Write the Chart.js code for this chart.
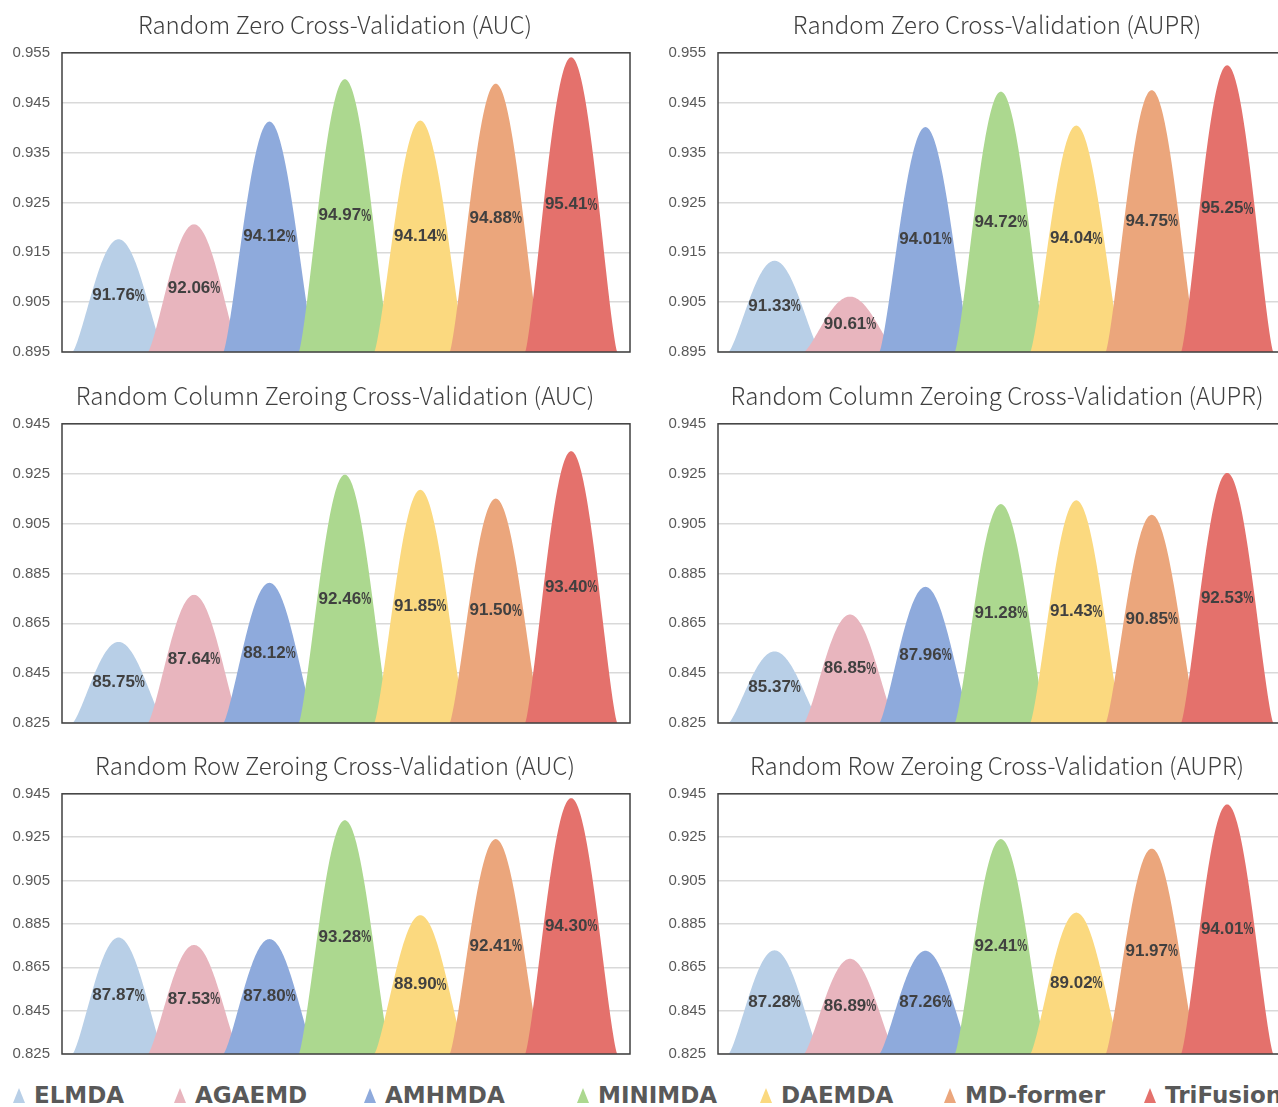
<!DOCTYPE html>
<html>
<head>
<meta charset="utf-8">
<script src="https://cdn.jsdelivr.net/npm/chart.js@4.4.1/dist/chart.umd.min.js"></script>
<style>
  html, body { margin:0; padding:0; width:1278px; height:1107px; overflow:hidden; background:#fff; }
  canvas.panel { position:absolute; }
  .leg { position:absolute; top:1081px; font:bold 23px "DejaVu Sans", sans-serif; color:#595959; white-space:nowrap; line-height:28px; }
  .tri { position:absolute; width:0; height:0; border-left:6.5px solid transparent; border-right:6.5px solid transparent; }
</style>
</head>
<body>
<script>
// ---------- data ----------
const methods = ['ELMDA', 'AGAEMD', 'AMHMDA', 'MINIMDA', 'DAEMDA', 'MD-former', 'TriFusion'];
const methodColors = ['#b8cfe7', '#e8b5be', '#8eaadc', '#acd88f', '#fbd97f', '#eba67c', '#e4716c'];

const zeroAUC   = [91.76, 92.06, 94.12, 94.97, 94.14, 94.88, 95.41];
const zeroAUPR  = [91.33, 90.61, 94.01, 94.72, 94.04, 94.75, 95.25];
const colAUC    = [85.75, 87.64, 88.12, 92.46, 91.85, 91.50, 93.40];
const colAUPR   = [85.37, 86.85, 87.96, 91.28, 91.43, 90.85, 92.53];
const rowAUC    = [87.87, 87.53, 87.80, 93.28, 88.90, 92.41, 94.30];
const rowAUPR   = [87.28, 86.89, 87.26, 92.41, 89.02, 91.97, 94.01];

const ticksZero = ['0.895', '0.905', '0.915', '0.925', '0.935', '0.945', '0.955'];
const ticksCol  = ['0.825', '0.845', '0.865', '0.885', '0.905', '0.925', '0.945'];
const ticksRow  = ['0.825', '0.845', '0.865', '0.885', '0.905', '0.925', '0.945'];

const titleZeroAUC  = 'Random Zero Cross-Validation (AUC)';
const titleZeroAUPR = 'Random Zero Cross-Validation (AUPR)';
const titleColAUC   = 'Random Column Zeroing Cross-Validation (AUC)';
const titleColAUPR  = 'Random Column Zeroing Cross-Validation (AUPR)';
const titleRowAUC   = 'Random Row Zeroing Cross-Validation (AUC)';
const titleRowAUPR  = 'Random Row Zeroing Cross-Validation (AUPR)';

// ---------- mountain drawing plugin ----------
const mountainPlugin = {
  id: 'mountains',
  afterDatasetsDraw(chart) {
    const ctx = chart.ctx;
    const xs = chart.scales.x, ys = chart.scales.y, area = chart.chartArea;
    const meta = chart.getDatasetMeta(0);
    const ds = chart.data.datasets[0];
    const step = xs.getPixelForValue(1) - xs.getPixelForValue(0);
    const half = step * 0.61;
    const base = ys.getPixelForValue(ys.min);
    ctx.save();
    ctx.beginPath();
    ctx.rect(area.left, area.top - 2, area.right - area.left, area.bottom - area.top + 2);
    ctx.clip();
    meta.data.forEach((el, i) => {
      const cx = el.x, top = el.y, h = base - top;
      const N = 120;
      ctx.beginPath();
      ctx.moveTo(cx - half, base);
      for (let k = 0; k <= N; k++) {
        const t = -1 + 2 * k / N;
        const c = Math.max(0, Math.cos(Math.PI * t / 2));
        ctx.lineTo(cx + t * half, base - h * Math.pow(c, 1.3));
      }
      ctx.closePath();
      ctx.fillStyle = ds.mountainColors[i];
      ctx.fill();
    });
    // labels
    ctx.fillStyle = '#404040';
    ctx.textBaseline = 'middle';
    ctx.textAlign = 'left';
    const numFont = 'bold 17px "Liberation Sans", Arial, sans-serif';
    const pctFont = 'bold 16px "Liberation Sans", Arial, sans-serif';
    meta.data.forEach((el, i) => {
      const v = ds.raw[i];
      const num = v.toFixed(2);
      const yMid = (el.y + base) / 2;
      ctx.font = numFont;
      const wNum = ctx.measureText(num).width;
      ctx.font = pctFont;
      const wPct = ctx.measureText('%').width * 0.7;
      const x0 = el.x - (wNum + wPct) / 2;
      ctx.font = numFont;
      ctx.fillText(num, x0, yMid);
      ctx.save();
      ctx.translate(x0 + wNum, yMid);
      ctx.scale(0.7, 1);
      ctx.font = pctFont;
      ctx.fillText('%', 0, 0.5);
      ctx.restore();
    });
    ctx.restore();
    // plot border
    ctx.save();
    ctx.strokeStyle = '#404040';
    ctx.lineWidth = 1.5;
    ctx.strokeRect(area.left, area.top, area.right - area.left, area.bottom - area.top);
    ctx.restore();
  }
};

// ---------- panels ----------
const panels = [
  { title: titleZeroAUC,  values: zeroAUC,  ticks: ticksZero, col: 0, row: 0 },
  { title: titleZeroAUPR, values: zeroAUPR, ticks: ticksZero, col: 1, row: 0 },
  { title: titleColAUC,   values: colAUC,   ticks: ticksCol,  col: 0, row: 1 },
  { title: titleColAUPR,  values: colAUPR,  ticks: ticksCol,  col: 1, row: 1 },
  { title: titleRowAUC,   values: rowAUC,   ticks: ticksRow,  col: 0, row: 2 },
  { title: titleRowAUPR,  values: rowAUPR,  ticks: ticksRow,  col: 1, row: 2 },
];
const colLayout = [ { left: 0, axisW: 62, rightW: 40 }, { left: 662, axisW: 56, rightW: 46 } ];
const rowLayout = [ { top: 9, height: 364 }, { top: 380, height: 364 }, { top: 750, height: 325 } ];

panels.forEach(p => {
  const cl = colLayout[p.col], rl = rowLayout[p.row];
  const cv = document.createElement('canvas');
  cv.className = 'panel';
  cv.width = 670; cv.height = rl.height;
  cv.style.left = cl.left + 'px'; cv.style.top = rl.top + 'px';
  cv.style.width = '670px'; cv.style.height = rl.height + 'px';
  document.body.appendChild(cv);
  const tickVals = p.ticks.map(Number);
  new Chart(cv.getContext('2d'), {
    type: 'bar',
    data: {
      labels: methods,
      datasets: [{
        label: p.title,
        data: p.values.map((v, i) => ({ x: i, y: v / 100 })),
        raw: p.values,
        mountainColors: methodColors,
        backgroundColor: 'rgba(0,0,0,0)',
        borderWidth: 0
      }]
    },
    options: {
      responsive: false,
      animation: false,
      devicePixelRatio: 1,
      layout: { padding: { top: 0, left: 0, right: 0, bottom: 12 } },
      plugins: {
        legend: { display: false },
        tooltip: { enabled: false },
        title: {
          display: true,
          text: p.title,
          font: { family: '"Noto Sans CJK SC", "Noto Sans", sans-serif', size: 24, weight: '300' },
          color: '#404040',
          padding: { top: 1, bottom: 14 }
        }
      },
      scales: {
        x: { type: 'linear', min: -0.75, max: 6.78, offset: false, display: false, grid: { offset: false } },
        y: {
          type: 'linear',
          min: tickVals[0], max: tickVals[tickVals.length - 1],
          afterBuildTicks(s) { s.ticks = tickVals.map(v => ({ value: v })); },
          afterFit(s) { s.width = cl.axisW; },
          ticks: {
            callback: (v, i) => p.ticks[i],
            font: { family: '"Liberation Sans", Arial, sans-serif', size: 15 },
            color: '#595959',
            padding: 12
          },
          grid: { color: '#d9d9d9', lineWidth: 1.5, drawTicks: false },
          border: { display: false }
        },
        yR: {
          type: 'linear', position: 'right', display: true,
          grid: { display: false }, border: { display: false },
          ticks: { display: false },
          afterFit(s) { s.width = cl.rightW; }
        }
      }
    },
    plugins: [mountainPlugin]
  });
});

// ---------- legend ----------
const legendTextX = [34, 195, 385, 598, 781, 965, 1165];
methods.forEach((m, i) => {
  const t = document.createElement('div');
  t.className = 'tri';
  t.style.left = (legendTextX[i] - 21) + 'px';
  t.style.top = '1088px';
  t.style.borderBottom = '15px solid ' + methodColors[i];
  document.body.appendChild(t);
  const d = document.createElement('div');
  d.className = 'leg';
  d.style.left = legendTextX[i] + 'px';
  d.textContent = m;
  document.body.appendChild(d);
});
</script>
</body>
</html>
